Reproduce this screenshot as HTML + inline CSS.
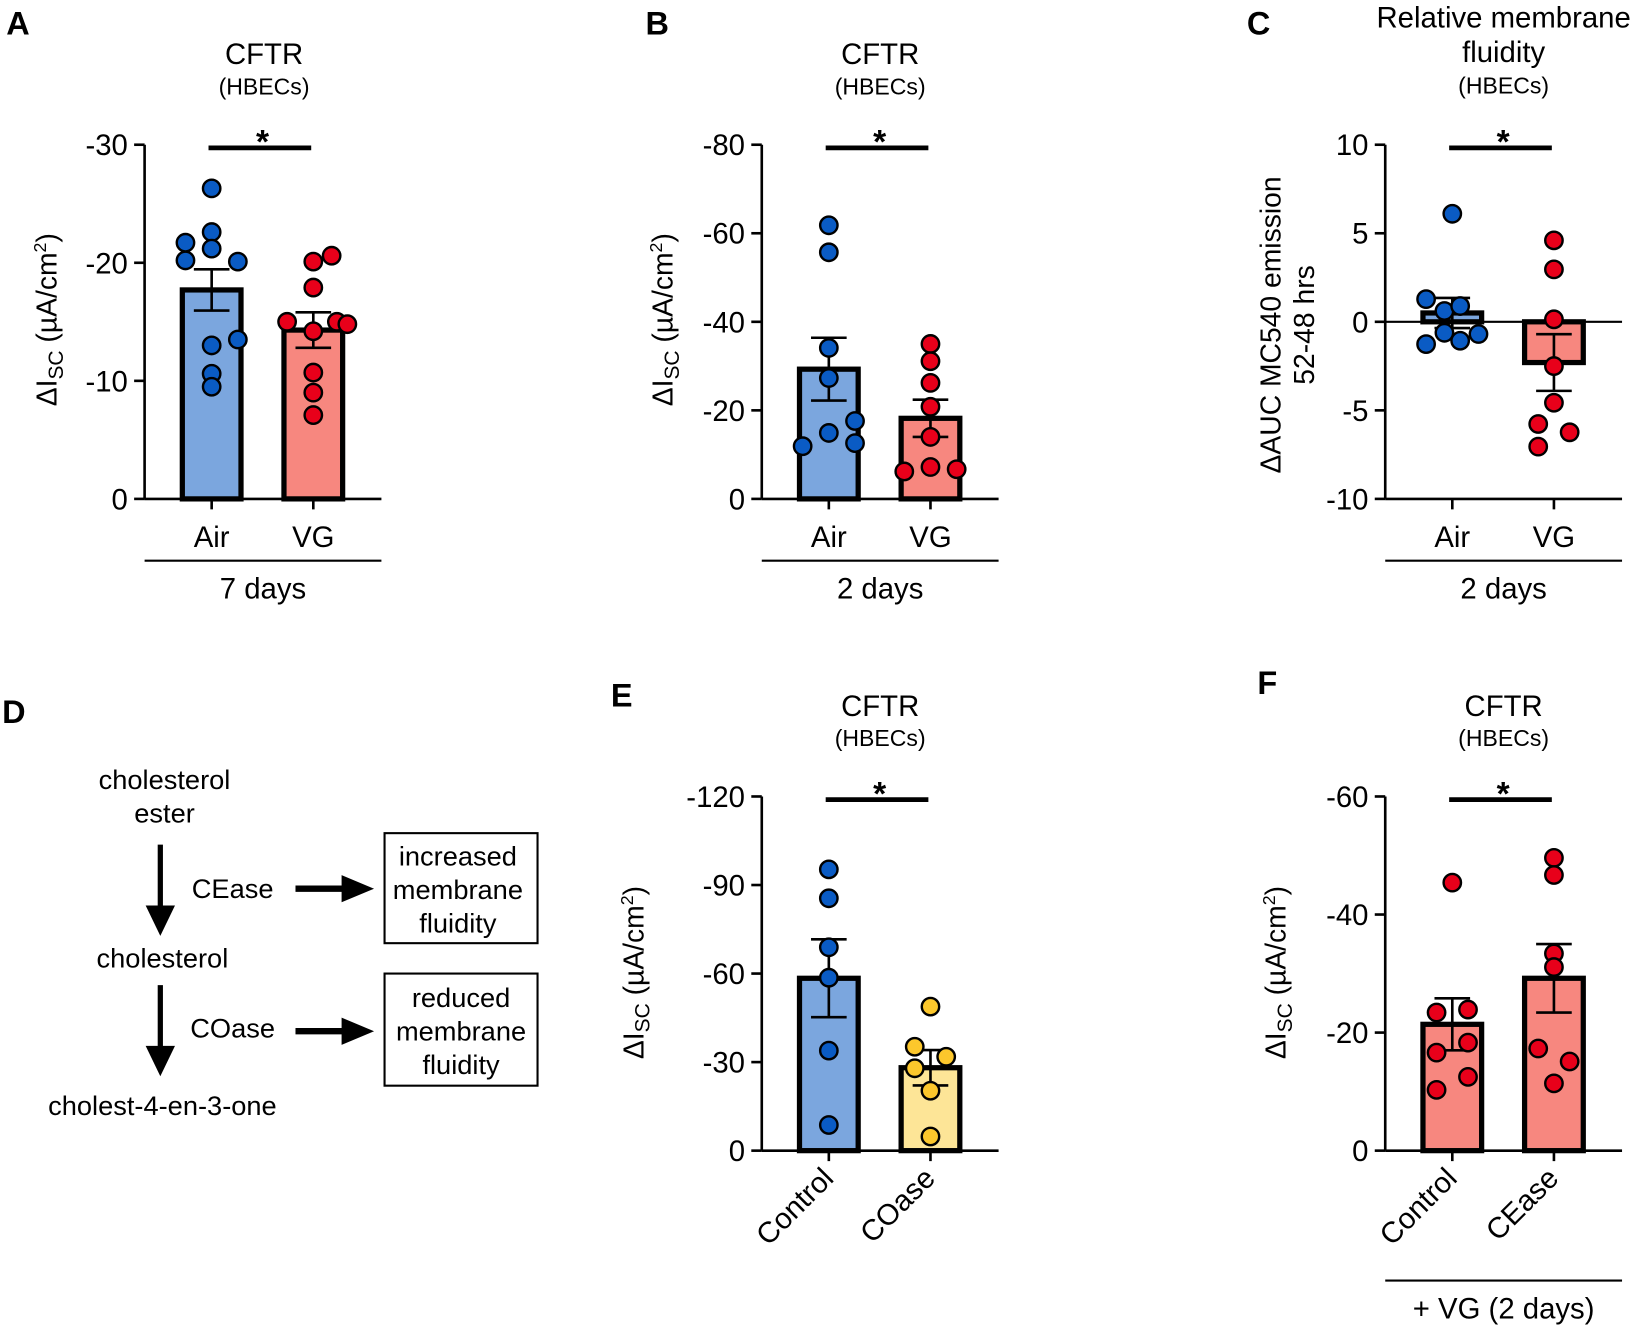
<!DOCTYPE html>
<html><head><meta charset="utf-8"><style>
html,body{margin:0;padding:0;background:#fff;}
svg{display:block;font-family:"Liberation Sans",Arial,sans-serif;}
</style></head><body>
<svg id="fig" width="1643" height="1331" viewBox="0 0 1568 1270" xmlns="http://www.w3.org/2000/svg">
<g font-weight="bold" font-size="31">
<text x="6" y="33">A</text>
<text x="616" y="33">B</text>
<text x="1190" y="33">C</text>
<text x="2" y="690">D</text>
<text x="583" y="674">E</text>
<text x="1200" y="662">F</text>
</g>
<g font-size="26" text-anchor="middle">
<text x="157" y="753">cholesterol</text>
<text x="157" y="785">ester</text>
<line x1="153" y1="806" x2="153" y2="868" stroke="#000" stroke-width="5"/>
<polygon points="139,864 167,864 153,893" fill="#000"/>
<text x="222" y="857">CEase</text>
<line x1="282" y1="848" x2="330" y2="848" stroke="#000" stroke-width="6"/>
<polygon points="326,835 357,848 326,861" fill="#000"/>
<rect x="367" y="795" width="146" height="105" fill="none" stroke="#000" stroke-width="2"/>
<text x="437" y="826">increased</text>
<text x="437" y="858">membrane</text>
<text x="437" y="890">fluidity</text>
<text x="155" y="923">cholesterol</text>
<line x1="153" y1="940" x2="153" y2="1002" stroke="#000" stroke-width="5"/>
<polygon points="139,998 167,998 153,1027" fill="#000"/>
<text x="222" y="990">COase</text>
<line x1="282" y1="984" x2="330" y2="984" stroke="#000" stroke-width="6"/>
<polygon points="326,971 357,984 326,997" fill="#000"/>
<rect x="367" y="929" width="146" height="107" fill="none" stroke="#000" stroke-width="2"/>
<text x="440" y="961">reduced</text>
<text x="440" y="993">membrane</text>
<text x="440" y="1025">fluidity</text>
<text x="155" y="1064">cholest-4-en-3-one</text>
</g>
</svg>
<script>
// ---- data (current magnitudes; axes labelled negative as in the original) ----
const aCats = ["Air","VG"];
const aAir = [26.3,22.6,21.7,21.2,20.2,20.1,13.5,13.0,10.6,9.5];
const aVG = [20.1,20.6,17.9,15.0,14.2,15.0,14.8,10.7,9.0,7.1];
const aMeans = [17.7,14.3];
const aSems = [1.75,1.5];
const aTicks = [0,10,20,30];
const aTickLabels = ["0","-10","-20","-30"];

const bCats = ["Air","VG"];
const bAir = [61.8,55.7,34.1,27.3,17.6,14.9,11.9,12.6];
const bVG = [35.0,31.1,26.2,20.8,14.0,7.2,6.2,6.7];
const bMeans = [29.3,18.2];
const bSems = [7.1,4.2];
const bTicks = [0,20,40,60,80];
const bTickLabels = ["0","-20","-40","-60","-80"];

const cCats = ["Air","VG"];
const cAir = [6.1,1.28,0.61,0.89,-0.62,-1.07,-0.69,-1.26];
const cVG = [4.6,2.96,0.14,-2.5,-4.57,-5.77,-6.24,-7.05];
const cMeans = [0.5,-2.3];
const cSems = [0.85,1.6];
const cTicks = [10,5,0,-5,-10];
const cTickLabels = ["10","5","0","-5","-10"];

const eCats = ["Control","COase"];
const eCtrl = [95.3,85.5,68.9,58.6,33.9,8.7];
const eCOase = [48.8,35.2,31.8,27.9,20.3,4.8];
const eMeans = [58.4,28.1];
const eSems = [13.2,6.0];
const eTicks = [0,30,60,90,120];
const eTickLabels = ["0","-30","-60","-90","-120"];

const fCats = ["Control","CEase"];
const fCtrl = [45.4,23.4,23.9,18.3,16.6,12.5,10.3];
const fCEase = [49.6,46.7,33.4,31.1,17.3,15.1,11.4];
const fMeans = [21.4,29.2];
const fSems = [4.4,5.8];
const fTicks = [0,20,40,60];
const fTickLabels = ["0","-20","-40","-60"];

// jitter slots (layout, not data)
const jitA = [[0,0,-1,0,-1,1,1,0,0,0],[0,0.7,0,-1,0,0.9,1.3,0,0,0]];
const jitB = [[0,0,0,0,1,0,-1,1],[0,0,0,0,0,0,-1,1]];
const jitC = [[0,-1,-0.3,0.3,-0.3,0.3,1,-1],[0,0,0,0,0,-0.6,0.6,-0.6]];
const jitE = [[0,0,0,0,0,0],[0,-0.6,0.6,-0.6,0,0]];
const jitF = [[0,-0.6,0.6,0.6,-0.6,0.6,-0.6],[0,0,0,0,-0.6,0.6,0]];

const NS="http://www.w3.org/2000/svg";
const svg=document.getElementById('fig');
function el(tag,attrs,parent,text){const e=document.createElementNS(NS,tag);for(const k in attrs)e.setAttribute(k,attrs[k]);if(text!==undefined)e.textContent=text;(parent||svg).appendChild(e);return e;}

function panel(o){
  const g=el('g',{});
  
  
  const y=v=>o.yBot+(v-o.vmin)/(o.vmax-o.vmin)*(o.yTop-o.yBot);
  const xc=[o.ax+64,o.ax+161];
  o.titles.forEach(t=>{const tt=el('text',{x:t[0],y:t[1],'font-size':t[3],'text-anchor':'middle'},g,t[2]);
    
    });
  o.means.forEach((m,i)=>{
    const base=y(0), top=y(m);
    const r=el('rect',{x:xc[i]-28,y:Math.min(base,top),width:56,height:Math.abs(base-top),fill:o.fills[i],stroke:'#000','stroke-width':5},g);
    
    
  });
  if(o.zeroLine){const zl=el('line',{x1:o.ax,x2:o.ax+226,y1:y(0),y2:y(0),stroke:'#000','stroke-width':2},g);
    
    }
  o.means.forEach((m,i)=>{
    const hi=y(m+o.sems[i]), lo=y(m-o.sems[i]);
    const eb=el('path',{d:`M${xc[i]},${hi}V${lo}M${xc[i]-17},${hi}H${xc[i]+17}M${xc[i]-17},${lo}H${xc[i]+17}`,stroke:'#000','stroke-width':2.5,fill:'none'},g);
    
    
  });
  o.series.forEach((s,i)=>{
    s.forEach((v,j)=>{
      const c=el('circle',{cx:xc[i]+o.jit[i][j]*25,cy:y(v),r:8.3,fill:o.dots[i],stroke:'#000','stroke-width':2.3},g);
      
      
    });
  });
  const ya=el('line',{x1:o.ax,x2:o.ax,y1:o.yTop,y2:o.yBot,stroke:'#000','stroke-width':2.5},g);
  
  
  const xaY=o.yBot;
  const xa=el('line',{x1:o.ax,x2:o.ax+226,y1:xaY,y2:xaY,stroke:'#000','stroke-width':2.5},g);
  
  
  o.ticks.forEach((t,k)=>{
    el('line',{x1:o.ax-10,x2:o.ax,y1:y(t),y2:y(t),stroke:'#000','stroke-width':2.5},g);
    const tl=el('text',{x:o.ax-16,y:y(t)+10,'font-size':28,'text-anchor':'end'},g,o.tickLabels[k]);
    
    
  });
  xc.forEach((x,i)=>{
    el('line',{x1:x,x2:x,y1:xaY,y2:xaY+10,stroke:'#000','stroke-width':2.5},g);
    let lab;
    if(o.rot){lab=el('text',{x:x+6,y:xaY+28,'font-size':28,'text-anchor':'end',transform:`rotate(-45 ${x+6} ${xaY+28})`},g,o.cats[i]);}
    else lab=el('text',{x:x,y:xaY+46,'font-size':28,'text-anchor':'middle'},g,o.cats[i]);
    
    
  });
  el('line',{x1:xc[0]-3,x2:xc[1]-2,y1:o.yTop+3,y2:o.yTop+3,stroke:'#000','stroke-width':4.5},g);
  const st=el('text',{x:(xc[0]+xc[1])/2,y:o.yTop+8,'font-size':32,'font-weight':'bold','text-anchor':'middle'},g,'*');
  
  
  if(o.group){
    el('line',{x1:o.ax,x2:o.ax+226,y1:o.group[1],y2:o.group[1],stroke:'#000','stroke-width':2},g);
    const gl=el('text',{x:o.ax+113,y:o.group[1]+36,'font-size':28,'text-anchor':'middle'},g,o.group[0]);
    
    
  }
  const yt=el('text',{transform:`translate(${o.ytx},${o.yty}) rotate(-90)`,'font-size':27,'text-anchor':'middle'},g);
  
  
  if(o.ytitle){yt.textContent=o.ytitle;
    if(o.ytitle2){const y2=el('text',{transform:`translate(${o.ytx+32},${o.yty}) rotate(-90)`,'font-size':27,'text-anchor':'middle'},g,o.ytitle2);
      
      }
  } else {
    el('tspan',{},yt,'ΔI');
    el('tspan',{'font-size':20,dy:6},yt,'SC');
    el('tspan',{dy:-6},yt,' (µA/cm');
    el('tspan',{'font-size':17,dy:-10},yt,'2');
    el('tspan',{dy:10},yt,')');
  }
}
const BLUE='#7ba6de',RED='#f7877f',YEL='#fde597',DB='#0a5bc4',DR='#e8001a',DY='#fcc72c';
panel({name:'panel-a-chart',ax:138,vmin:0,vmax:30,yTop:138,yBot:476,cats:aCats,series:[aAir,aVG],means:aMeans,sems:aSems,ticks:aTicks,tickLabels:aTickLabels,jit:jitA,fills:[BLUE,RED],dots:[DB,DR],
  titles:[[252,61,'CFTR',28],[252,90,'(HBECs)',22]],group:['7 days',535],ytx:54,yty:305});
panel({name:'panel-b-chart',ax:727,vmin:0,vmax:80,yTop:138,yBot:476,cats:bCats,series:[bAir,bVG],means:bMeans,sems:bSems,ticks:bTicks,tickLabels:bTickLabels,jit:jitB,fills:[BLUE,RED],dots:[DB,DR],
  titles:[[840,61,'CFTR',28],[840,90,'(HBECs)',22]],group:['2 days',535],ytx:642,yty:305});
panel({name:'panel-c-chart',ax:1322,vmin:-10,vmax:10,yTop:138,yBot:476,cats:cCats,series:[cAir,cVG],means:cMeans,sems:cSems,ticks:cTicks,tickLabels:cTickLabels,jit:jitC,fills:[BLUE,RED],dots:[DB,DR],zeroLine:true,
  titles:[[1435,26,'Relative membrane',28],[1435,59,'fluidity',28],[1435,89,'(HBECs)',22]],group:['2 days',535],ytx:1222,yty:310,ytitle:'ΔAUC MC540 emission',ytitle2:'52-48 hrs'});
panel({name:'panel-e-chart',ax:727,vmin:0,vmax:120,yTop:760,yBot:1098,cats:eCats,series:[eCtrl,eCOase],means:eMeans,sems:eSems,ticks:eTicks,tickLabels:eTickLabels,jit:jitE,fills:[BLUE,YEL],dots:[DB,DY],rot:true,
  titles:[[840,683,'CFTR',28],[840,712,'(HBECs)',22]],ytx:614,yty:928});
panel({name:'panel-f-chart',ax:1322,vmin:0,vmax:60,yTop:760,yBot:1098,cats:fCats,series:[fCtrl,fCEase],means:fMeans,sems:fSems,ticks:fTicks,tickLabels:fTickLabels,jit:jitF,fills:[RED,RED],dots:[DR,DR],rot:true,
  titles:[[1435,683,'CFTR',28],[1435,712,'(HBECs)',22]],group:['+ VG (2 days)',1222],ytx:1227,yty:928});
</script>
</body></html>
